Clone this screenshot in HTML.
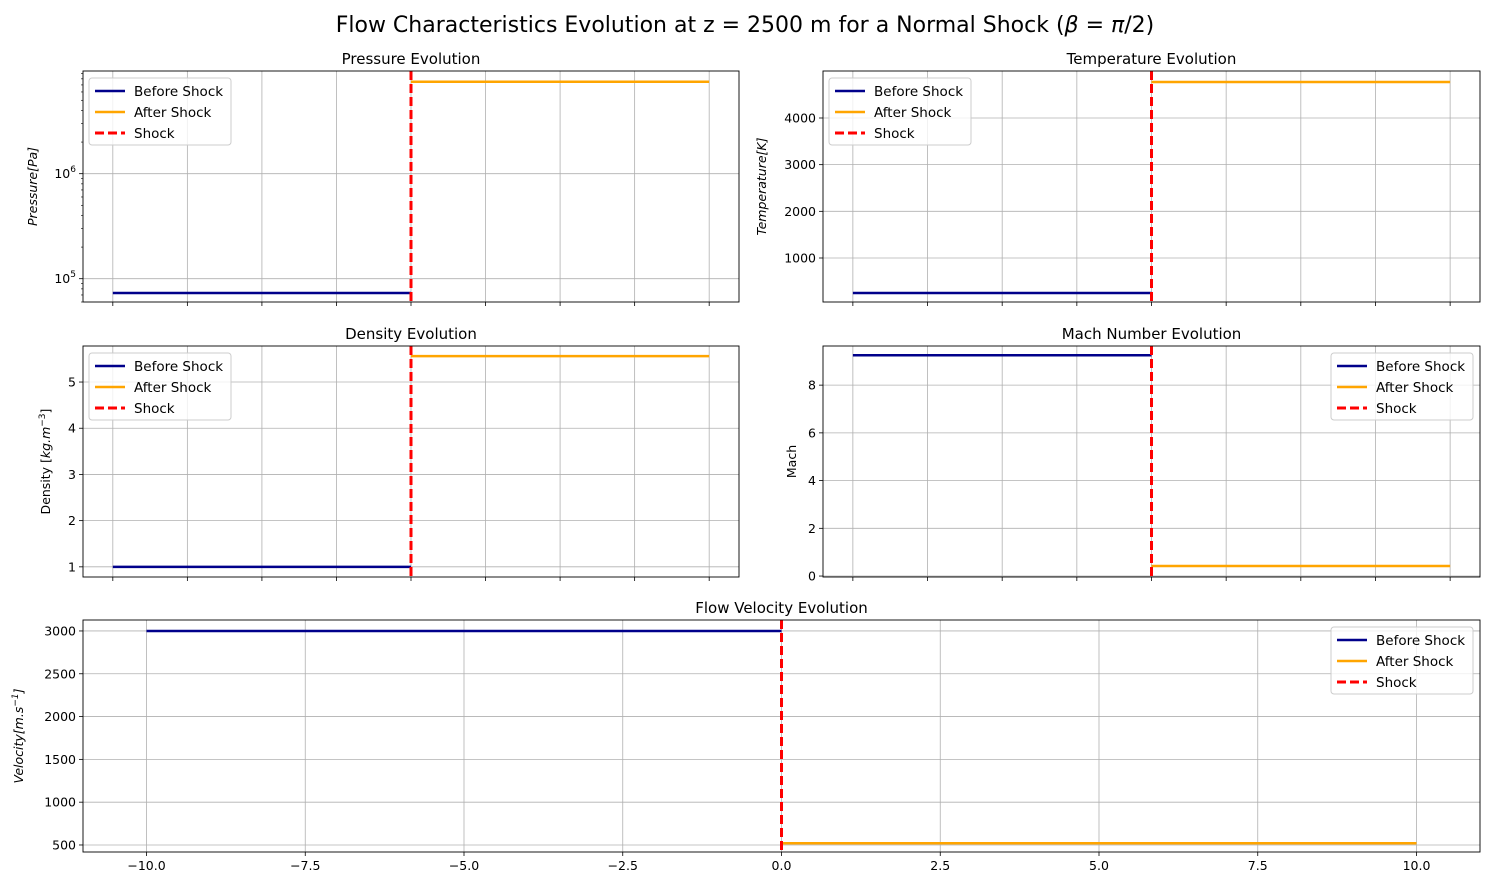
<!DOCTYPE html>
<html><head><meta charset="utf-8"><style>
body{margin:0;background:#fff;}
svg text{font-family:"DejaVu Sans","Liberation Sans",sans-serif;fill:#000;}
</style></head><body>
<svg id="fig" width="1489" height="886" xmlns="http://www.w3.org/2000/svg">
<text x="745" y="32" font-size="22" text-anchor="middle">Flow Characteristics Evolution at z = 2500 m for a Normal Shock (<tspan font-style="italic">β</tspan> = <tspan font-style="italic">π</tspan>/2)</text>
</svg>
<script>
const xRange=[-10,10];
const shockX=0;
const xTicks=[-10,-7.5,-5,-2.5,0,2.5,5,7.5,10];
const xTickLabels=["−10.0","−7.5","−5.0","−2.5","0.0","2.5","5.0","7.5","10.0"];
const pressureVals=[73000,7500000];
const temperatureVals=[250,4770];
const densityVals=[1.0,5.56];
const machVals=[9.25,0.42];
const velocityVals=[3000,520];
const tempTicks=[1000,2000,3000,4000];
const densTicks=[1,2,3,4,5];
const machTicks=[0,2,4,6,8];
const velTicks=[500,1000,1500,2000,2500,3000];
const NS="http://www.w3.org/2000/svg";
const svg=document.getElementById('fig');
function mk(tag,attrs,parent){const e=document.createElementNS(NS,tag);for(const k in attrs)e.setAttribute(k,attrs[k]);(parent||svg).appendChild(e);return e;}
function panel(o){
  const g=mk('g',{});
  
  
  const L=o.x0,R=o.x1,T=o.y0,B=o.y1;
  const xs=v=>L+(v+11)/22*(R-L);
  const tr=o.log?(v=>Math.log10(v)):(v=>v);
  const ys=v=>B-(tr(v)-tr(o.ylim[0]))/(tr(o.ylim[1])-tr(o.ylim[0]))*(B-T);
  xTicks.forEach((t,i)=>{
    const gl=mk('line',{x1:xs(t),x2:xs(t),y1:T,y2:B,stroke:'#b0b0b0','stroke-width':0.8},g);
    
    mk('line',{x1:xs(t),x2:xs(t),y1:B,y2:B+4,stroke:'#000','stroke-width':0.8},g);
    if(o.showX){const tx=mk('text',{x:xs(t),y:B+18,'font-size':12.5,'text-anchor':'middle'},g);tx.textContent=xTickLabels[i];
      }
  });
  o.yTicks.forEach((t,i)=>{
    const y=ys(t);
    const gl=mk('line',{x1:L,x2:R,y1:y,y2:y,stroke:'#b0b0b0','stroke-width':0.8},g);
    
    mk('line',{x1:L-4,x2:L,y1:y,y2:y,stroke:'#000','stroke-width':0.8},g);
    const tx=mk('text',{x:L-7,y:y+4.5,'font-size':12.5,'text-anchor':'end'},g);
    
    if(o.log){tx.textContent='10';const s=mk('tspan',{dy:-6,'font-size':9},tx);s.textContent=String(Math.round(Math.log10(t)));}
    else tx.textContent=String(t);
  });
  if(o.log){for(let d=4;d<=7;d++)for(let m=2;m<=9;m++){const v=m*Math.pow(10,d);if(v<o.ylim[0]||v>o.ylim[1])continue;const y=ys(v);mk('line',{x1:L-2,x2:L,y1:y,y2:y,stroke:'#000','stroke-width':0.6},g);}}
  const b=mk('line',{x1:xs(xRange[0]),x2:xs(shockX),y1:ys(o.vals[0]),y2:ys(o.vals[0]),stroke:'#00008b','stroke-width':2.5},g);
  
  const a=mk('line',{x1:xs(shockX),x2:xs(xRange[1]),y1:ys(o.vals[1]),y2:ys(o.vals[1]),stroke:'#ffa500','stroke-width':2.5},g);
  
  const s=mk('line',{x1:xs(shockX),x2:xs(shockX),y1:T,y2:B,stroke:'#ff0000','stroke-width':3,'stroke-dasharray':'9,4'},g);
  
  mk('rect',{x:L,y:T,width:R-L,height:B-T,fill:'none',stroke:'#000','stroke-width':0.9},g);
  const ti=mk('text',{x:(L+R)/2,y:T-7,'font-size':15,'text-anchor':'middle'},g);ti.textContent=o.title;
  
  const yl=mk('text',{x:0,y:0,'font-size':12.5,'text-anchor':'middle','font-style':o.italic?'italic':'normal',transform:`translate(${o.ylx},${(T+B)/2}) rotate(-90)`},g);
  yl.innerHTML=o.ylabel;
  const lx=o.legRight?R-149:L+6, ly=T+7;
  const lg=mk('g',{},g);
  mk('rect',{x:lx,y:ly,width:142,height:67,rx:3,fill:'#fff','fill-opacity':0.8,stroke:'#ccc'},lg);
  [['Before Shock','#00008b',''],['After Shock','#ffa500',''],['Shock','#ff0000','9,4']].forEach((e,i)=>{
    const yy=ly+13+i*21;
    mk('line',{x1:lx+6,x2:lx+36,y1:yy,y2:yy,stroke:e[1],'stroke-width':e[2]?3:2.5,'stroke-dasharray':e[2]||'none'},lg);
    const t=mk('text',{x:lx+45,y:yy+5,'font-size':13.5},lg);t.textContent=e[0];
    
  });
}
panel({name:'pressure-panel',x0:83,x1:739,y0:71,y1:302,log:true,ylim:[60000,9500000],yTicks:[100000,1000000],vals:pressureVals,title:'Pressure Evolution',ylabel:'Pressure[Pa]',italic:true,ylx:37,showX:false});
panel({name:'temperature-panel',x0:823,x1:1480,y0:71,y1:302,ylim:[57,5007],yTicks:tempTicks,vals:temperatureVals,title:'Temperature Evolution',ylabel:'Temperature[K]',italic:true,ylx:766,showX:false});
panel({name:'density-panel',x0:83,x1:739,y0:346,y1:577,ylim:[0.78,5.78],yTicks:densTicks,vals:densityVals,title:'Density Evolution',ylabel:'Density [<tspan font-style="italic">kg.m</tspan><tspan dy="-5" font-size="9">−3</tspan><tspan dy="5">]</tspan>',italic:false,ylx:50,showX:false});
panel({name:'mach-panel',x0:823,x1:1480,y0:346,y1:577,ylim:[-0.04,9.64],yTicks:machTicks,vals:machVals,title:'Mach Number Evolution',ylabel:'Mach',italic:false,ylx:796,legRight:true,showX:false});
panel({name:'velocity-panel',x0:83,x1:1480,y0:620,y1:852,ylim:[418,3128],yTicks:velTicks,vals:velocityVals,title:'Flow Velocity Evolution',ylabel:'Velocity[m.s<tspan dy="-5" font-size="9">−1</tspan><tspan dy="5">]</tspan>',italic:true,ylx:23,legRight:true,showX:true});
</script>
</body></html>
